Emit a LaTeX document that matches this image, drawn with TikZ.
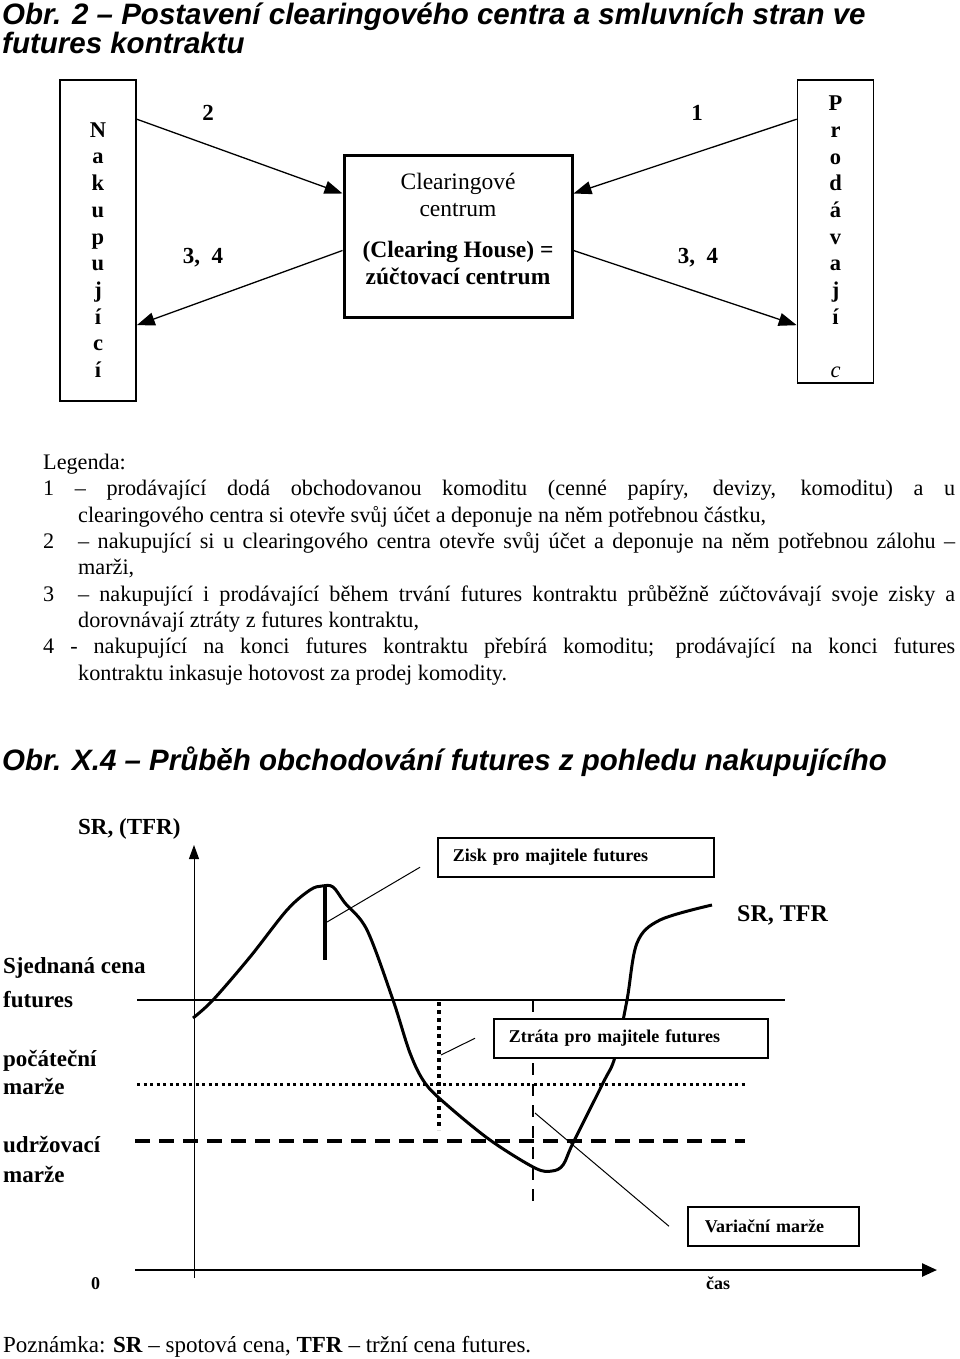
\documentclass[tikz,border=0pt]{standalone}
\usepackage{fontspec}
\setmainfont{Liberation Serif}
\newfontfamily\arialfont{Liberation Sans}
\usetikzlibrary{arrows.meta,calc,positioning}
\tikzset{>=Triangle,
  side/.style={draw,line width=1.6pt,minimum width=76pt,inner sep=0pt},
  letters/.style={align=center,inner sep=0pt,font=\fontsize{22.5}{26.7}\selectfont\bfseries},
  flow/.style={line width=1.3pt,-{Triangle[length=18pt,width=13pt]}},
  num/.style={font=\fontsize{23}{27}\selectfont\bfseries},
  titl/.style={inner sep=0pt,font=\arialfont\fontsize{29.5}{31}\selectfont\bfseries\itshape},
  lab/.style={inner sep=0pt,font=\fontsize{23}{27}\selectfont\bfseries},
  lbox/.style={draw,fill=white,line width=1.5pt,inner xsep=15pt,inner ysep=0pt,align=left,minimum height=39pt,font=\fontsize{18}{20}\selectfont\bfseries},
  leader/.style={line width=1pt},
  level/.style={line width=2.5pt}}

\begin{document}
\begin{tikzpicture}[x=1pt,y=-1pt]
\useasboundingbox (0,0) rectangle (960,1359);
% titulek 1
\node[titl,anchor=base west] (tit1) at (2,25) {Obr. 2 – Postavení clearingového centra a smluvních stran ve};
\node[titl,anchor=base west] (tit1b) at (2,54) {futures kontraktu};
% smluvni strany a clearingove centrum
\node[side,minimum height=321pt] (nak) at (98,240.5) {};
\node[letters] (naktxt) at (98,250) {N\\a\\k\\u\\p\\u\\j\\í\\c\\í};
\node[side,minimum height=303pt] (prod) at (835.5,231.5) {};
\node[letters] (prodtxt) at (835.5,237) {P\\r\\o\\d\\á\\v\\a\\j\\í\\\mbox{}\\{\mdseries\itshape c}};
\node[draw,line width=3pt,minimum width=228pt,minimum height=161pt] (cc) at (458,236.5) {};
\node[align=center,inner sep=0pt,font=\fontsize{23.5}{27}\selectfont] (cctxt) at ($(cc.center)+(0,-8)$) {Clearingové\\centrum\\[14pt]{\bfseries (Clearing House) =}\\{\bfseries zúčtovací centrum}};
\draw[flow] ([yshift=-40pt]nak.north east) -- ([yshift=-39pt]cc.north west);
\draw[flow] ([yshift=-96pt]cc.north west) -- ([yshift=-246pt]nak.north east);
\draw[flow] ([yshift=-40pt]prod.north west) -- ([yshift=-39pt]cc.north east);
\draw[flow] ([yshift=-96pt]cc.north east) -- ([yshift=-246pt]prod.north west);
\node[num] (l2) at (208,113) {2};
\node[num] (l34a) at (203,258) {3,\ \ 4};
\node[num] (l1) at (697,113) {1};
\node[num] (l34b) at (698,258) {3,\ \ 4};
% legenda
\node[anchor=north west,inner sep=0pt,text width=912pt,align=justify,font=\fontsize{22.2}{26.3}\selectfont] (leg) at (43,454) {%
\parindent=0pt\hyphenpenalty=10000\tolerance=9999\emergencystretch=20pt
Legenda:\par
\hangindent=35pt\hangafter=1\relax 1 – prodávající dodá obchodovanou komoditu (cenné papíry, devizy, komoditu) a~u\linebreak clearingového centra si otevře svůj účet a deponuje na něm potřebnou částku,\par
\hangindent=35pt\hangafter=1\relax \makebox[35pt][l]{2}– nakupující si u clearingového centra otevře svůj účet a deponuje na něm potřebnou zálohu~–\linebreak marži,\par
\hangindent=35pt\hangafter=1\relax \makebox[35pt][l]{3}– nakupující i prodávající během trvání futures kontraktu průběžně zúčtovávají svoje zisky a\linebreak dorovnávají ztráty z futures kontraktu,\par
\hangindent=35pt\hangafter=1\relax 4 - nakupující na konci futures kontraktu přebírá komoditu; prodávající na konci futures\linebreak kontraktu inkasuje hotovost za prodej komodity.\par};
% titulek 2
\node[titl,anchor=base west] (tit2) at (2,770) {Obr. X.4 – Průběh obchodování futures z pohledu nakupujícího};
% osy
\coordinate (ybot) at (194,1278);
\coordinate (ytop) at (194,845);
\coordinate (xl) at (135,1270);
\coordinate (xr) at (937,1270);
\draw[line width=1pt,-{Triangle[length=14pt,width=10pt]}] (ybot) -- (ytop);
\draw[line width=2.5pt,-{Triangle[length=15pt,width=13pt]}] (xl) -- (xr);
\node[lab,anchor=base west] (osay) at (78,834) {SR, (TFR)};
\node[lab,anchor=base west,font=\fontsize{18}{20}\selectfont\bfseries] (nula) at (91,1289) {0};
\node[lab,anchor=base west,font=\fontsize{18}{20}\selectfont\bfseries] (cas) at (706,1289) {čas};
% urovne
\coordinate (sjl) at (137,1000);
\coordinate (sjr) at (785,1000);
\coordinate (pml) at (137,1084);
\coordinate (pmr) at (748,1084);
\coordinate (uml) at (135,1141);
\coordinate (umr) at (745,1141);
\draw[level] (sjl) -- (sjr);
\draw[line width=3pt,dash pattern=on 3pt off 3.5pt] (pml) -- (pmr);
\draw[line width=3.5pt,dash pattern=on 15pt off 9pt] (uml) -- (umr);
\node[lab,anchor=base west] (sjed) at (3,973) {Sjednaná cena};
\node[lab,anchor=base west] (fut) at (3,1007) {futures};
\node[lab,anchor=base west] (poc) at (3,1066) {počáteční};
\node[lab,anchor=base west] (pm) at (3,1094) {marže};
\node[lab,anchor=base west] (udr) at (3,1152) {udržovací};
\node[lab,anchor=base west] (um) at (3,1182) {marže};
% svisle znacky
\coordinate (pk) at (325,886);
\coordinate (pkb) at (325,960);
\coordinate (vdt) at (439,1002);
\coordinate (vdb) at (439,1130);
\coordinate (vst) at (533,1000);
\coordinate (vsb) at (533,1207);
\draw[line width=4pt] (pk) -- (pkb);
\draw[line width=4pt,dash pattern=on 4pt off 4pt] (vdt) -- (vdb);
\draw[line width=2.5pt,dash pattern=on 12pt off 9pt] (vst) -- (vsb);
% prubeh ceny
\draw[line width=3pt,line join=round] plot[smooth,tension=0.55] coordinates {(193,1018) (213,1000) (250,957) (287,910) (310,890) (322,886) (333,887) (345,903) (367,930) (393,1000) (410,1053) (425,1083) (447,1105) (490,1140) (535,1168) (552,1171) (563,1165) (573,1143) (603,1083) (615,1057) (627,1000) (637,943) (660,920) (712,905)};
\node[lab,anchor=base west,font=\fontsize{24}{27}\selectfont\bfseries] (srtfr) at (737,921) {SR, TFR};
% popisky
\node[lbox,anchor=north west,text width=246pt] (zisk) at (437,837) {Zisk pro majitele futures};
\node[lbox,anchor=north west,text width=244pt] (ztr) at (493,1018) {Ztráta pro majitele futures};
\node[lbox,anchor=north west,text width=137pt,inner xsep=17pt] (var) at (687,1206) {Variační marže};
\coordinate (ziskpt) at (327,922);
\coordinate (ztrpt) at (441,1055);
\coordinate (varpt) at (535,1113);
\draw[leader] (ziskpt) -- ([xshift=-17pt,yshift=-10pt]zisk.west);
\draw[leader] (ztrpt) -- ([xshift=-18pt]ztr.west);
\draw[leader] (varpt) -- ([xshift=-18pt]var.west);
% poznamka
\node[anchor=base west,inner sep=0pt,font=\fontsize{23}{27}\selectfont] (pozn) at (3,1352) {Poznámka: \textbf{SR} – spotová cena, \textbf{TFR} – tržní cena futures.};
\end{tikzpicture}
\end{document}
